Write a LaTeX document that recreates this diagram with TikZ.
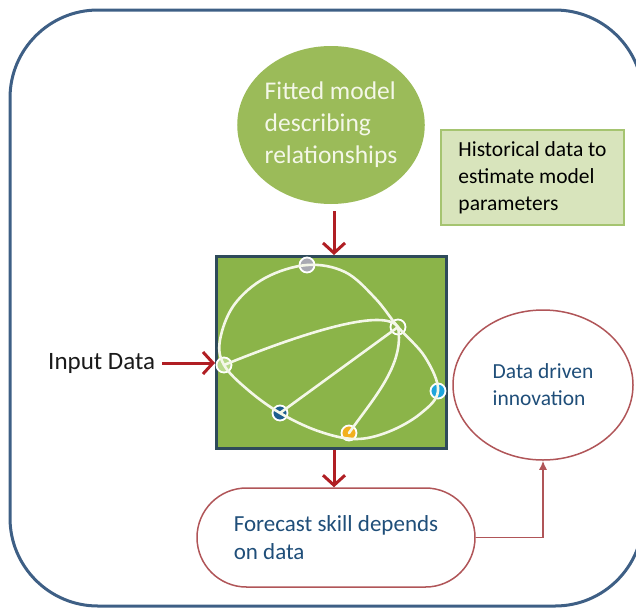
\documentclass[tikz,border=0pt]{standalone}
\usepackage{fontspec}
\setmainfont{Carlito}
\usetikzlibrary{arrows.meta,shapes.misc,shapes.geometric}

\definecolor{framecol}{RGB}{62,95,133}
\definecolor{olive}{RGB}{155,187,89}
\definecolor{modelgreen}{RGB}{139,180,73}
\definecolor{modeledge}{RGB}{46,74,90}
\definecolor{paleolive}{RGB}{216,228,188}
\definecolor{paleedge}{RGB}{165,196,112}
\definecolor{arrowred}{RGB}{176,30,35}
\definecolor{linkred}{RGB}{176,85,88}
\definecolor{navytext}{RGB}{31,78,121}
\definecolor{cream}{RGB}{244,247,232}
\definecolor{dotgray}{RGB}{169,170,178}
\definecolor{dotlight}{RGB}{184,217,138}
\definecolor{dotblue}{RGB}{30,94,142}
\definecolor{dotorange}{RGB}{242,176,30}
\definecolor{dotcyan}{RGB}{30,165,220}

\tikzset{
  frame/.style={draw=framecol, line width=3pt, rounded corners=88pt},
  fitcirc/.style={ellipse, fill=olive, minimum width=170pt, minimum height=158pt,
    inner sep=0pt, text=cream, align=left, font=\fontsize{25.5}{32}\selectfont},
  histbox/.style={rectangle, fill=paleolive, draw=paleedge, line width=2pt,
    minimum width=183pt, minimum height=95pt, inner sep=0pt,
    align=left, font=\fontsize{21.5}{27}\selectfont},
  modelbox/.style={rectangle, fill=modelgreen, draw=modeledge, line width=3pt,
    minimum width=230pt, minimum height=192pt, inner sep=0pt},
  forebox/.style={rounded rectangle, draw=linkred, line width=1.5pt,
    minimum width=278pt, minimum height=99pt, inner sep=0pt,
    align=left, text=navytext, font=\fontsize{23}{28}\selectfont},
  innovell/.style={ellipse, draw=linkred, line width=1.5pt,
    minimum width=180pt, minimum height=150pt, inner sep=0pt, align=left,
    text=navytext, font=\fontsize{21.5}{27}\selectfont},
  plainlabel/.style={inner sep=0pt, font=\fontsize{25}{30}\selectfont, text={rgb,255:red,26;green,26;blue,26}},
  redarrow/.style={draw=arrowred, line width=3pt,
    -{Straight Barb[length=10pt,width=22pt,line width=3pt]}},
  link/.style={draw=linkred, line width=1.5pt, -{Latex[length=9pt,width=8pt]}},
  gdot/.style={circle, draw=white, line width=1.8pt, minimum size=15pt, inner sep=0pt},
  gline/.style={draw=cream, line width=2.6pt, line cap=round}
}

\begin{document}
\begin{tikzpicture}[x=1pt,y=-1pt]
\useasboundingbox (0,0) rectangle (636,608);

% outer rounded frame (its right side runs just past the page edge)
\draw[frame] (10,10) rectangle (643,606);

% main shapes
\node[fitcirc] (fitted) at (331,125) {Fitted model\\describing\\relationships};
\node[histbox] (hist) at (532.5,177.5) {Historical data to\\estimate model\\parameters};
\node[modelbox] (model) at (331.5,352.5) {};
\node[plainlabel, anchor=west] (input) at (48,363) {Input Data};
\node[forebox] (forecast) at (336,537.5) {Forecast skill depends\\on data};
\node[innovell] (innov) at (543,385) {Data driven\\innovation};

% relationship graph inside the model box
\node[gdot, fill=dotgray]   (gT) at (307,265) {};
\node[gdot, fill=modelgreen] (gR) at (398,327) {};
\node[gdot, fill=dotlight]  (gL) at (224,365) {};
\node[gdot, fill=dotblue]   (gB) at (280,413) {};
\node[gdot, fill=dotorange] (gO) at (349,433) {};
\node[gdot, fill=dotcyan]   (gC) at (438,391) {};

\draw[gline] plot[smooth cycle, tension=0.6] coordinates {
  (gL.center) (220,340) (234,305) (265,278) (gT.center) (345,272) (375,298)
  (gR.center) (425,357) (gC.center) (420,414) (388,432) (355,439) (318,431)
  (gB.center) (248,390)};
\draw[gline] (gL.center) .. controls (310,330) and (385,308) .. (gR.center);
\draw[gline] (gR.center) -- (gB.center);
\draw[gline] (gR.center) .. controls (405,365) and (372,400) .. (gO.center);

% arrows
\draw[redarrow] ([shift={(3,7)}]fitted.south) -- ([xshift=3pt]fitted.south |- model.north);
\draw[redarrow] ([xshift=7pt]input.east) -- (input.east -| model.west);
\draw[redarrow] ([xshift=2.5pt]model.south) -- ([xshift=2.5pt]model.south |- forecast.north);
\draw[link] (forecast.east) -| (innov.south);
\end{tikzpicture}
\end{document}
